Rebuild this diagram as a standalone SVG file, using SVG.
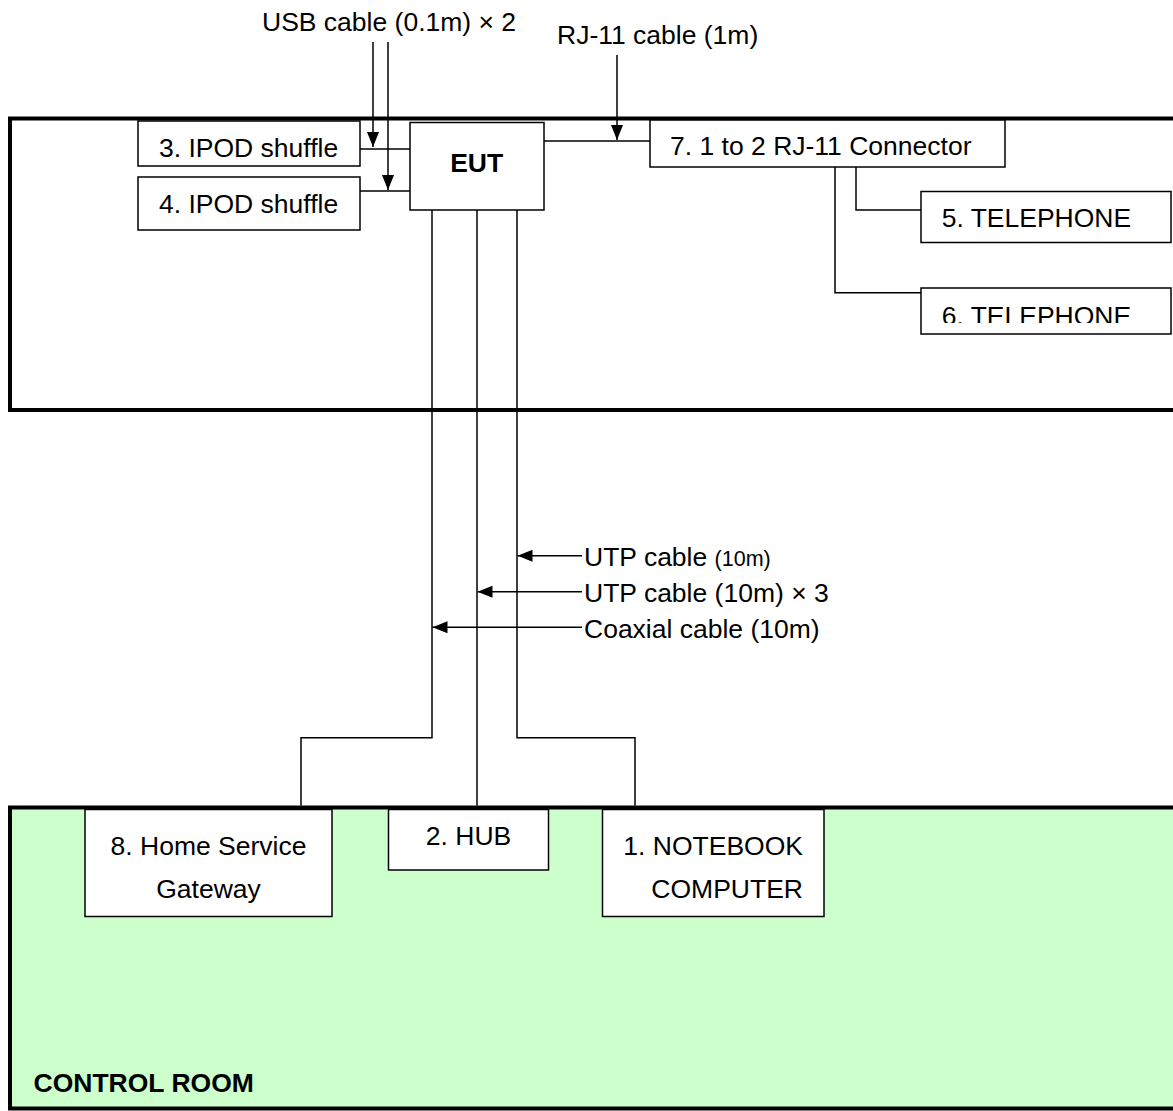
<svg xmlns="http://www.w3.org/2000/svg" width="1173" height="1111" viewBox="0 0 1173 1111">
<style>
text{font-family:"Liberation Sans",Arial,sans-serif;font-size:26.5px;fill:#000}
.b{font-weight:bold}
.room{stroke:#000;stroke-width:4}
.box{fill:#fff;stroke:#000;stroke-width:1.5}
.w{fill:none;stroke:#000;stroke-width:1.5}
</style>
<defs>
<marker id="ah" markerUnits="userSpaceOnUse" markerWidth="16" markerHeight="14" refX="15" refY="6" orient="auto" viewBox="0 0 16 12">
<path d="M0,0 L15,6 L0,12 Z" fill="#000"/>
</marker>
<clipPath id="c6"><rect x="921" y="288" width="252" height="35"/></clipPath>
</defs>
<g id="test-room"><rect class="room" x="10" y="118.5" width="1200" height="291.5" fill="#fff"/></g>
<g id="control-room"><rect class="room" x="10" y="807.5" width="1200" height="301" fill="#CCFFCC"/>
<text class="b" x="33.5" y="1092">CONTROL ROOM</text></g>
<g id="connectors">
<line class="w" x1="373" y1="42" x2="373" y2="147" marker-end="url(#ah)"/>
<line class="w" x1="388" y1="42" x2="388" y2="190" marker-end="url(#ah)"/>
<line class="w" x1="360" y1="149" x2="410" y2="149"/>
<line class="w" x1="360" y1="191" x2="410" y2="191"/>
<line class="w" x1="544" y1="141" x2="650" y2="141"/>
<line class="w" x1="617" y1="55" x2="617" y2="140" marker-end="url(#ah)"/>
<polyline class="w" points="856,167 856,210 921,210"/>
<polyline class="w" points="835,167 835,292.7 921,292.7"/>
<polyline class="w" points="432,210 432,737.7 301,737.7 301,805.5"/>
<line class="w" x1="477" y1="210" x2="477" y2="805.5"/>
<polyline class="w" points="517,210 517,737.7 635,737.7 635,805.5"/>
<line class="w" x1="582" y1="555.7" x2="517.5" y2="555.7" marker-end="url(#ah)"/>
<line class="w" x1="582" y1="591.7" x2="477.5" y2="591.7" marker-end="url(#ah)"/>
<line class="w" x1="582" y1="627.3" x2="432.5" y2="627.3" marker-end="url(#ah)"/>
<text x="262" y="31">USB cable (0.1m) × 2</text>
<text x="557" y="44">RJ-11 cable (1m)</text>
<text x="584" y="566">UTP cable <tspan font-size="21.5">(10m)</tspan></text>
<text x="584" y="602">UTP cable (10m) × 3</text>
<text x="584" y="638">Coaxial cable (10m)</text>
</g>
<g id="ipod3"><rect class="box" x="138" y="121" width="222" height="45"/><text x="159" y="157">3. IPOD shuffle</text></g>
<g id="ipod4"><rect class="box" x="138" y="177" width="222" height="53"/><text x="159" y="213">4. IPOD shuffle</text></g>
<g id="eut"><rect class="box" x="410" y="122.5" width="134" height="87.5"/><text class="b" x="476.7" y="172.3" text-anchor="middle">EUT</text></g>
<g id="connector7"><rect class="box" x="650" y="120" width="355" height="47"/><text x="670" y="155">7. 1 to 2 RJ-11 Connector</text></g>
<g id="telephone5"><rect class="box" x="921" y="191.5" width="250" height="51"/><text x="941.7" y="227.3">5. TELEPHONE</text></g>
<g id="telephone6"><rect class="box" x="921" y="288" width="250" height="46"/><text x="941.7" y="325" clip-path="url(#c6)">6. TELEPHONE</text></g>
<g id="gateway8"><rect class="box" x="85" y="809.5" width="247" height="107"/><text x="208.5" y="855" text-anchor="middle">8. Home Service</text><text x="208.5" y="898.3" text-anchor="middle">Gateway</text></g>
<g id="hub2"><rect class="box" x="388.5" y="809.5" width="160" height="60.5"/><text x="468.5" y="845" text-anchor="middle">2. HUB</text></g>
<g id="notebook1"><rect class="box" x="602.5" y="809.5" width="221.5" height="107"/><text x="803" y="855" text-anchor="end">1. NOTEBOOK</text><text x="803" y="898.3" text-anchor="end">COMPUTER</text></g>
</svg>
